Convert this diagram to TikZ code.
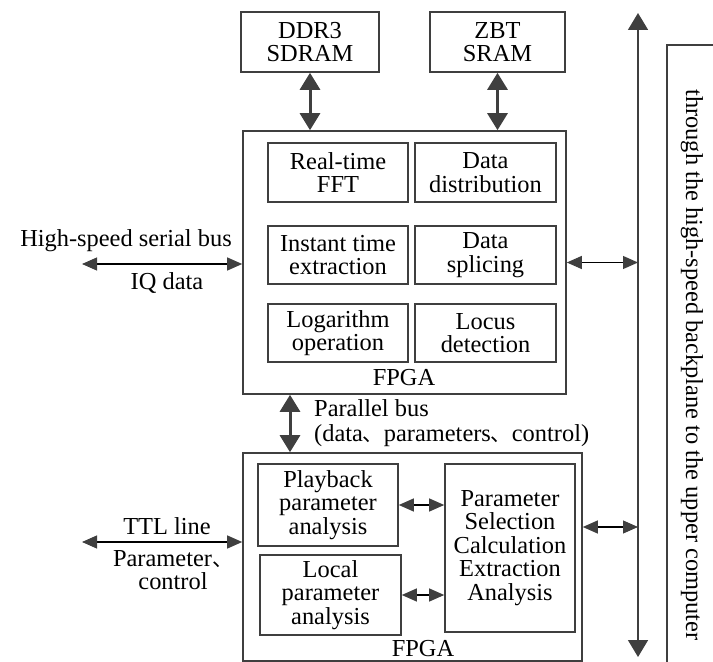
\documentclass[tikz,border=0pt]{standalone}
\usepackage{fontspec}
\setmainfont{Liberation Serif}
\newfontfamily\cjk{Noto Sans CJK SC}
\usetikzlibrary{arrows.meta}
\definecolor{ink}{HTML}{3F3F3F}
\definecolor{thin}{HTML}{6E6E6E}
\newcommand{\dun}{{\cjk\fontsize{21}{21}\selectfont 、}}

\begin{document}
\begin{tikzpicture}[x=1bp,y=-1bp,
  every node/.style={font=\fontsize{24.5}{23.5}\selectfont, text=black},
  box/.style={draw=ink, line width=1.6bp, inner sep=0pt, align=center},
  lbl/.style={inner sep=0pt, align=center},
  fat/.style={ink, line width=3bp, {Triangle[length=17bp,width=20bp]}-{Triangle[length=17bp,width=20bp]}},
  slim/.style={thin, line width=1.1bp, {Triangle[length=15bp,width=13bp,fill=ink,color=ink]}-{Triangle[length=15bp,width=13bp,fill=ink,color=ink]}},
  busline/.style={ink, line width=1.6bp, {Triangle[length=17bp,width=20bp]}-{Triangle[length=17bp,width=20bp]}}]
\useasboundingbox (0,0) rectangle (713,662);
\clip (0,0) rectangle (713,662);

% memories
\node[box, minimum width=138bp, minimum height=60bp] (ddr) at (310,42) {DDR3\\SDRAM};
\node[box, minimum width=135bp, minimum height=60bp] (zbt) at (497.5,42) {ZBT\\SRAM};

% upper FPGA with its function blocks
\node[box, minimum width=323bp, minimum height=263bp] (up) at (404.5,262.5) {};
\node[box, minimum width=140bp, minimum height=59bp] (fft) at (338,172.5) {Real-time\\FFT};
\node[box, minimum width=141bp, minimum height=59bp] (dist) at (485.5,172.5) {Data\\distribution};
\node[box, minimum width=140bp, minimum height=58bp] (inst) at (338,255) {Instant time\\extraction};
\node[box, minimum width=141bp, minimum height=58bp] (spl) at (485.5,255) {Data\\splicing};
\node[box, minimum width=140bp, minimum height=58bp] (log) at (338,333) {Logarithm\\operation};
\node[box, minimum width=141bp, minimum height=58bp] (loc) at (485.5,333) {Locus\\detection};
\node[lbl] (upl) at (404,378) {FPGA};

% lower FPGA with its analysis blocks
\node[box, minimum width=339bp, minimum height=208bp] (low) at (412.5,557) {};
\node[box, minimum width=140bp, minimum height=82bp] (play) at (328,505) {Playback\\parameter\\analysis};
\node[box, minimum width=141bp, minimum height=80bp] (local) at (330.5,595) {Local\\parameter\\analysis};
\node[box, minimum width=130bp, minimum height=168bp] (par) at (510,548) {Parameter\\Selection\\Calculation\\Extraction\\Analysis};
\node[lbl] (lowl) at (423,649) {FPGA};

% backplane bus and its label frame
\coordinate (bustop) at (638,13);
\coordinate (busbot) at (638,657);
\draw[busline] (bustop) -- (busbot);
\draw[ink, line width=1.6bp] (730,45) -- (667,45) -- (667,680);
\node[lbl, rotate=-90] (bp) at (692,365) {through the high-speed backplane to the upper computer};

% memory links
\draw[fat] (ddr.south) -- (ddr.south |- up.north);
\draw[fat] (zbt.south) -- (zbt.south |- up.north);

% parallel bus between the two FPGAs
\coordinate (pb) at (290,0);
\draw[fat] (pb |- up.south) -- (pb |- low.north);
\node[lbl, anchor=west, align=left] (pbl) at (314,423) {Parallel bus\\[1.5bp](data\dun parameters\dun control)};

% links to the backplane
\draw[slim] (up.east) -- (up.east -| bustop);
\coordinate (lowlink) at (638,527);
\draw[slim] (lowlink -| low.east) -- (lowlink);

% links inside the lower FPGA
\draw[slim] (play.east) -- (play.east -| par.west);
\draw[slim] (local.east) -- (local.east -| par.west);

% external interfaces
\coordinate (serial) at (82,264);
\draw[slim] (serial) -- (serial -| up.west);
\node[lbl] (serl) at (126,241) {High-speed serial bus};
\node[lbl] (iql) at (167,283) {IQ data};

\coordinate (ttl) at (82,542);
\draw[slim] (ttl) -- (ttl -| low.west);
\node[lbl] (ttll) at (167,526) {TTL line};
\node[lbl] (pcl) at (173,570) {Parameter\dun\\control};
\end{tikzpicture}
\end{document}
